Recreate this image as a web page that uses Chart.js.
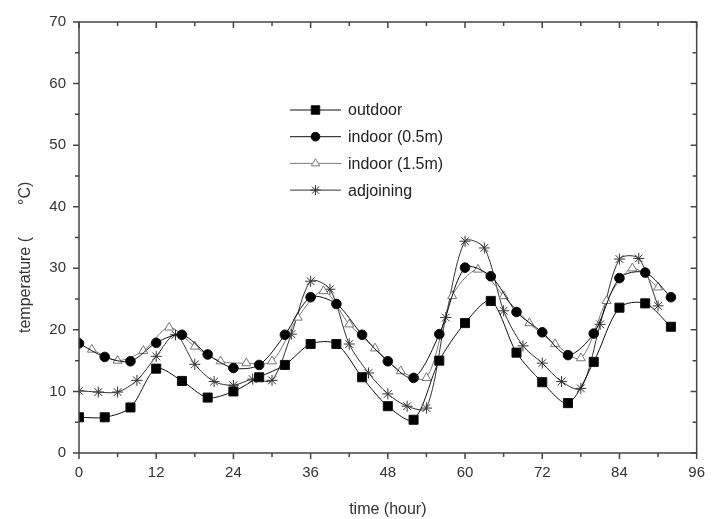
<!DOCTYPE html>
<html lang="en">
<head>
  <meta charset="UTF-8">
  <title>Temperature vs time</title>
  <script src="https://cdn.jsdelivr.net/npm/chart.js"></script>
  <style>
    html, body { margin: 0; padding: 0; background: #fff; }
    .chart-container { position: relative; width: 716px; height: 519px; }
  </style>
</head>
<body>
  <div class="chart-container">
    <canvas id="tempChart"></canvas>
  </div>

  <script>
    // marker times (hour) and readings (°C)
    const hours4 = [0, 4, 8, 12, 16, 20, 24, 28, 32, 36, 40, 44, 48, 52, 56, 60, 64, 68, 72, 76, 80, 84, 88, 92];
    const outdoor = [5.8, 5.8, 7.4, 13.7, 11.7, 9.0, 10.0, 12.3, 14.3, 17.7, 17.7, 12.3, 7.6, 5.4, 15.0, 21.1, 24.7, 16.3, 11.5, 8.1, 14.8, 23.6, 24.3, 20.5];
    const indoorLow = [17.8, 15.6, 14.9, 17.9, 19.2, 16.0, 13.8, 14.3, 19.2, 25.3, 24.2, 19.2, 14.9, 12.2, 19.3, 30.1, 28.7, 22.9, 19.6, 15.9, 19.4, 28.4, 29.3, 25.3];

    const hoursHigh = [2, 6, 10, 14, 18, 22, 26, 30, 34, 38, 42, 46, 50, 54, 58, 62, 66, 70, 74, 78, 82, 86, 90];
    const indoorHigh = [16.8, 15.0, 16.6, 20.4, 17.3, 14.9, 14.6, 14.9, 22.0, 26.3, 20.9, 17.0, 13.3, 12.2, 25.5, 29.8, 25.5, 21.1, 17.7, 15.4, 24.7, 30.0, 26.9];

    const hours3 = [0, 3, 6, 9, 12, 15, 18, 21, 24, 27, 30, 33, 36, 39, 42, 45, 48, 51, 54, 57, 60, 63, 66, 69, 72, 75, 78, 81, 84, 87, 90];
    const adjoining = [10.1, 9.9, 9.9, 11.8, 15.7, 19.2, 14.4, 11.6, 11.0, 12.0, 11.8, 19.3, 27.9, 26.6, 17.7, 13.0, 9.6, 7.6, 7.3, 22.0, 34.4, 33.3, 23.1, 17.4, 14.6, 11.6, 10.5, 20.9, 31.5, 31.6, 23.9];

    const xTickMarks = [0, 6, 12, 18, 24, 30, 36, 42, 48, 54, 60, 66, 72, 78, 84, 90, 96];
    const yTickMarks = [0, 5, 10, 15, 20, 25, 30, 35, 40, 45, 50, 55, 60, 65, 70];

    const toPoints = (xs, ys) => xs.map((x, i) => ({ x: x, y: ys[i] }));

    const series = (label, xs, ys, style, radius, fill, stroke) => ({
      label: label,
      data: toPoints(xs, ys),
      borderColor: stroke,
      borderWidth: 1,
      tension: 0.3,
      pointStyle: style,
      pointRadius: radius,
      pointHoverRadius: radius,
      pointBackgroundColor: fill,
      pointBorderColor: stroke,
      pointBorderWidth: 1
    });

    const fontFamily = '"Liberation Sans", Arial, sans-serif';

    // box around the plot with ticks: outward on left/bottom, inward on top/right
    const frameTicks = {
      id: 'frameTicks',
      afterDraw(chart) {
        const ctx = chart.ctx;
        const { left, right, top, bottom } = chart.chartArea;
        const xs = chart.scales.x, ys = chart.scales.y;
        ctx.save();
        ctx.strokeStyle = '#444';
        ctx.lineWidth = 1.5;
        ctx.strokeRect(left, top, right - left, bottom - top);
        ctx.beginPath();
        xTickMarks.forEach(v => {
          const p = xs.getPixelForValue(v);
          const len = v % 12 === 0 ? 6 : 4;
          ctx.moveTo(p, bottom); ctx.lineTo(p, bottom + len);
          ctx.moveTo(p, top); ctx.lineTo(p, top + len);
        });
        yTickMarks.forEach(v => {
          const p = ys.getPixelForValue(v);
          const len = v % 10 === 0 ? 6 : 4;
          ctx.moveTo(left, p); ctx.lineTo(left - len, p);
          ctx.moveTo(right, p); ctx.lineTo(right - len, p);
        });
        ctx.stroke();
        ctx.restore();
      }
    };

    // y title sits lower than centre in the original, with a gap before °C
    const yTitle = {
      id: 'yTitle',
      afterDraw(chart) {
        const ctx = chart.ctx;
        ctx.save();
        ctx.translate(26, 333);
        ctx.rotate(-Math.PI / 2);
        ctx.font = '16px ' + fontFamily;
        ctx.fillStyle = '#333';
        ctx.textBaseline = 'middle';
        ctx.fillText('temperature (', 0, 0);
        ctx.fillText('°C)', 128, 0);
        ctx.restore();
      }
    };

    // legend drawn as line + marker + text
    const lineLegend = {
      id: 'lineLegend',
      afterDraw(chart) {
        const ctx = chart.ctx;
        const { left, top } = chart.chartArea;
        const x0 = left + 211, x1 = left + 262, tx = left + 269;
        ctx.save();
        ctx.font = '16px ' + fontFamily;
        ctx.textBaseline = 'middle';
        chart.data.datasets.forEach((ds, i) => {
          const y = top + 88 + i * 26.7;
          ctx.strokeStyle = ds.borderColor;
          ctx.lineWidth = 1;
          ctx.beginPath(); ctx.moveTo(x0, y); ctx.lineTo(x1, y); ctx.stroke();
          ctx.fillStyle = ds.pointBackgroundColor;
          ctx.strokeStyle = ds.pointBorderColor;
          Chart.helpers.drawPoint(ctx, { pointStyle: ds.pointStyle, radius: ds.pointRadius - 0.4, rotation: 0, borderWidth: 1 }, (x0 + x1) / 2, y);
          ctx.fillStyle = '#222';
          ctx.fillText(ds.label, tx, y + 1);
        });
        ctx.restore();
      }
    };

    const font = { family: fontFamily, size: 15 };

    new Chart(document.getElementById('tempChart').getContext('2d'), {
      type: 'line',
      data: {
        datasets: [
          series('outdoor', hours4, outdoor, 'rect', 6.4, '#000', '#111'),
          series('indoor (0.5m)', hours4, indoorLow, 'circle', 4.8, '#000', '#111'),
          series('indoor (1.5m)', hoursHigh, indoorHigh, 'triangle', 5.2, '#fff', '#777'),
          series('adjoining', hours3, adjoining, 'star', 5.5, '#fff', '#333')
        ]
      },
      plugins: [frameTicks, yTitle, lineLegend],
      options: {
        responsive: true,
        maintainAspectRatio: false,
        animation: false,
        layout: { padding: { top: 20, right: 11, left: 0, bottom: 0 } },
        plugins: {
          legend: { display: false },
          tooltip: { enabled: false }
        },
        scales: {
          x: {
            type: 'linear',
            min: 0,
            max: 96,
            afterFit: s => { s.height = 66; },
            grid: { display: false, drawTicks: false },
            border: { display: false },
            ticks: { stepSize: 12, padding: 11, color: '#333', font: font, maxRotation: 0 },
            title: { display: true, text: 'time (hour)', color: '#333', font: { family: fontFamily, size: 16 }, padding: { top: 0, bottom: 0 } }
          },
          y: {
            min: 0,
            max: 70,
            afterFit: s => { s.width = 79; },
            grid: { display: false, drawTicks: false },
            border: { display: false },
            ticks: { stepSize: 10, padding: 13, color: '#333', font: font },
            title: { display: false }
          }
        }
      }
    });
  </script>
</body>
</html>
